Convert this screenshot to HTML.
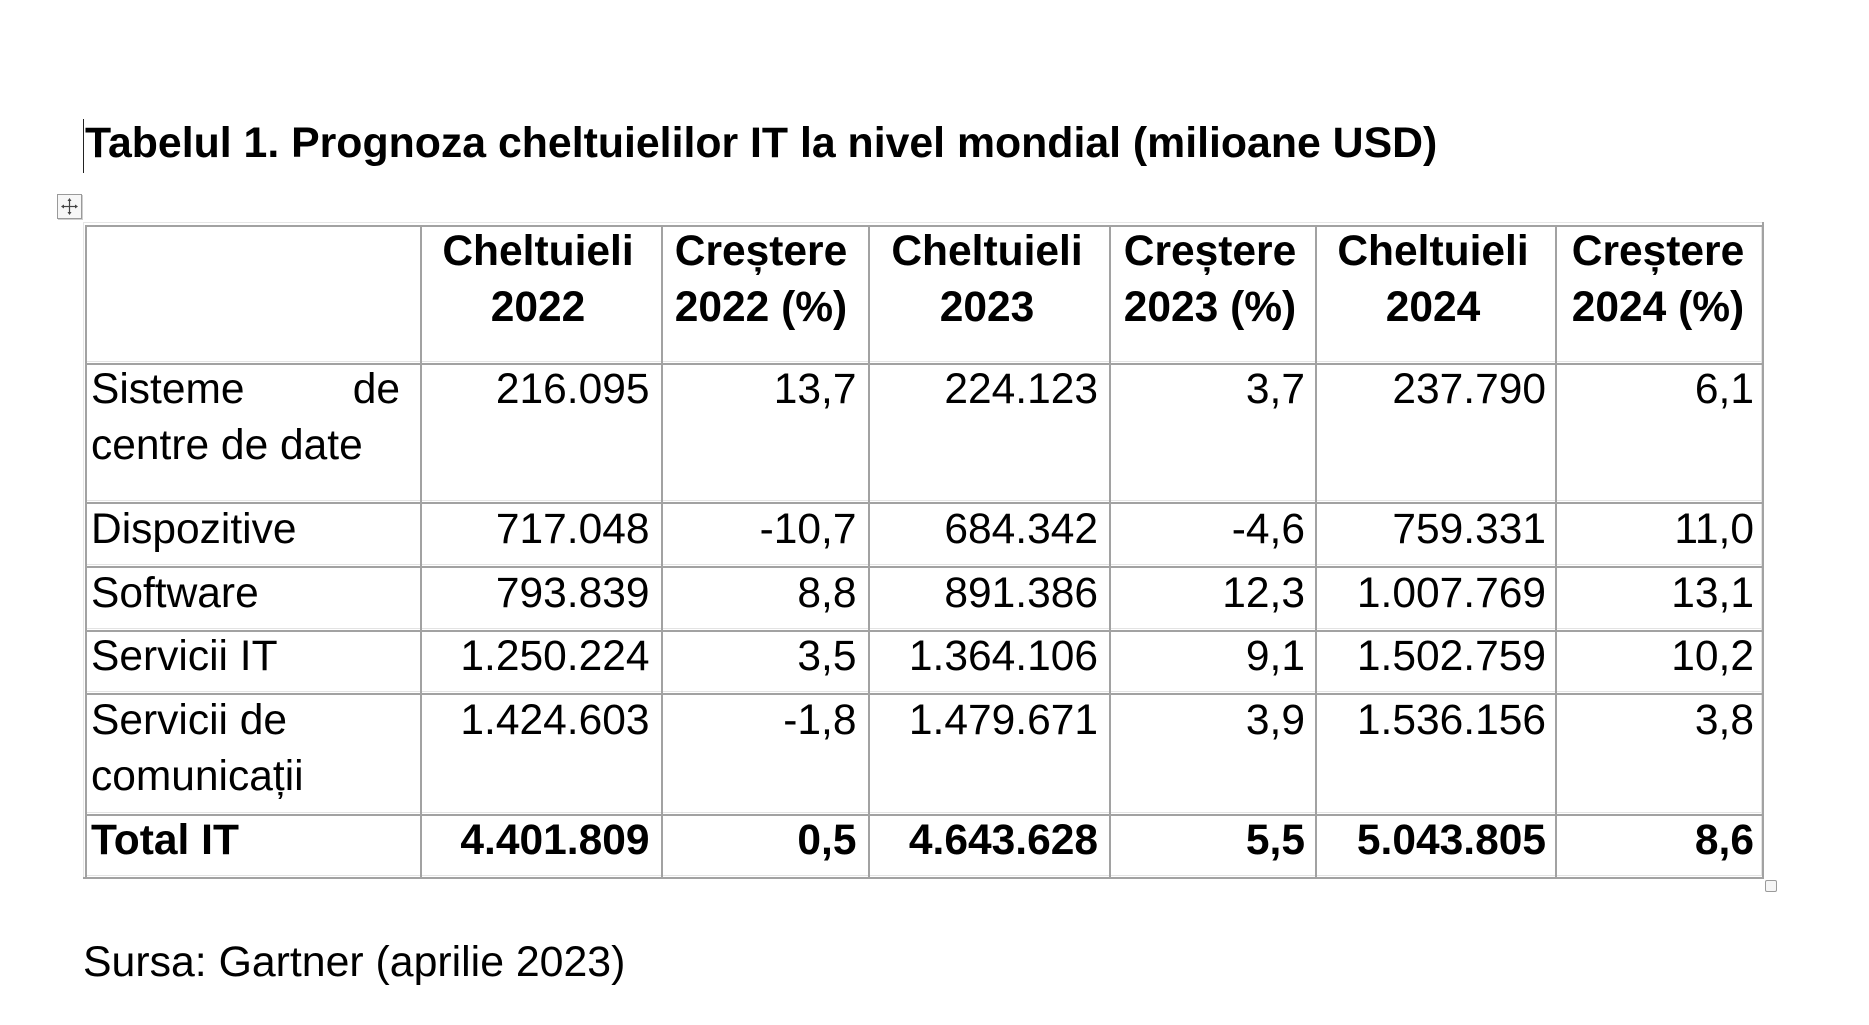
<!DOCTYPE html>
<html>
<head>
<meta charset="utf-8">
<style>
  html, body { margin:0; padding:0; background:#fff; }
  body { width:1869px; height:1025px; position:relative; overflow:hidden; }
  .t { position:absolute; font-family:"Liberation Sans", Arial, sans-serif; font-size:42.5px; line-height:56px; white-space:nowrap; color:#000; }
  .b { font-weight:bold; }
  .c { text-align:center; width:240px; }
  .r { text-align:right; }
  .dv { position:absolute; width:2px; background:#a2a2a2; top:225px; height:654px; }
  .dh { position:absolute; height:2px; background:#a2a2a2; left:85px; width:1679px; }
  .lh { position:absolute; height:1px; background:#e3e3e3; left:85px; width:1677px; }
</style>
</head>
<body>

<!-- cursor -->
<div style="position:absolute;left:83px;top:119px;width:1px;height:54px;background:#222;"></div>
<!-- title -->
<div class="t b" style="left:85px;top:115px;font-size:42.8px;">Tabelul 1. Prognoza cheltuielilor IT la nivel mondial (milioane USD)</div>

<!-- move handle -->
<div style="position:absolute;left:57px;top:194px;width:23px;height:23px;border:1px solid #9a9a9a;background:#f7f7f7;box-shadow:1px 1px 0 #cfcfcf;">
  <svg width="23" height="23" viewBox="0 0 23 23" style="position:absolute;left:0;top:0;">
    <g stroke="#444" stroke-width="1.2" fill="none">
      <line x1="11.5" y1="4" x2="11.5" y2="19"/>
      <line x1="4" y1="11.5" x2="19" y2="11.5"/>
    </g>
    <g fill="#444">
      <polygon points="11.5,3 9.5,6 13.5,6"/>
      <polygon points="11.5,20 9.5,17 13.5,17"/>
      <polygon points="3,11.5 6,9.5 6,13.5"/>
      <polygon points="20,11.5 17,9.5 17,13.5"/>
    </g>
  </svg>
</div>

<!-- table outer frame -->
<div style="position:absolute;left:83px;top:222px;width:1681px;height:1px;background:#e6e6e6;"></div>
<div style="position:absolute;left:83px;top:222px;width:1px;height:657px;background:#e6e6e6;"></div>
<div style="position:absolute;left:1762px;top:222px;width:2px;height:657px;background:#a2a2a2;"></div>
<div style="position:absolute;left:1761px;top:225px;width:1px;height:651px;background:#e3e3e3;"></div>
<div style="position:absolute;left:83px;top:877px;width:1681px;height:2px;background:#a2a2a2;"></div>

<!-- light horizontal lines -->
<div class="lh" style="top:361px;"></div>
<div class="lh" style="top:500px;"></div>
<div class="lh" style="top:564px;"></div>
<div class="lh" style="top:628px;"></div>
<div class="lh" style="top:691px;"></div>
<div class="lh" style="top:812px;"></div>
<div class="lh" style="top:875px;"></div>

<!-- dark horizontal lines -->
<div class="dh" style="top:225px;"></div>
<div class="dh" style="top:363px;"></div>
<div class="dh" style="top:502px;"></div>
<div class="dh" style="top:566px;"></div>
<div class="dh" style="top:630px;"></div>
<div class="dh" style="top:693px;"></div>
<div class="dh" style="top:814px;"></div>

<!-- dark vertical lines -->
<div class="dv" style="left:85px;"></div>
<div class="dv" style="left:420px;"></div>
<div class="dv" style="left:661px;"></div>
<div class="dv" style="left:868px;"></div>
<div class="dv" style="left:1109px;"></div>
<div class="dv" style="left:1315px;"></div>
<div class="dv" style="left:1555px;"></div>

<!-- resize handle -->
<div style="position:absolute;left:1765px;top:880px;width:10px;height:10px;border:1px solid #9a9a9a;border-radius:2px;background:#f5f5f5;"></div>

<!-- header -->
<div class="t b c" style="left:418px;top:224px;">Cheltuieli<br>2022</div>
<div class="t b c" style="left:641px;top:224px;">Creștere<br>2022 (%)</div>
<div class="t b c" style="left:867px;top:224px;">Cheltuieli<br>2023</div>
<div class="t b c" style="left:1090px;top:224px;">Creștere<br>2023 (%)</div>
<div class="t b c" style="left:1313px;top:224px;">Cheltuieli<br>2024</div>
<div class="t b c" style="left:1538px;top:224px;">Creștere<br>2024 (%)</div>

<!-- row 1 -->
<div class="t" style="left:91px;top:362px;">Sisteme</div>
<div class="t r" style="right:1469px;top:362px;">de</div>
<div class="t" style="left:91px;top:418px;">centre de date</div>
<div class="t r" style="right:1219.5px;top:362px;">216.095</div>
<div class="t r" style="right:1012.5px;top:362px;">13,7</div>
<div class="t r" style="right:771px;top:362px;">224.123</div>
<div class="t r" style="right:564px;top:362px;">3,7</div>
<div class="t r" style="right:323px;top:362px;">237.790</div>
<div class="t r" style="right:115px;top:362px;">6,1</div>

<!-- row 2 -->
<div class="t" style="left:91px;top:502px;">Dispozitive</div>
<div class="t r" style="right:1219.5px;top:502px;">717.048</div>
<div class="t r" style="right:1012.5px;top:502px;">-10,7</div>
<div class="t r" style="right:771px;top:502px;">684.342</div>
<div class="t r" style="right:564px;top:502px;">-4,6</div>
<div class="t r" style="right:323px;top:502px;">759.331</div>
<div class="t r" style="right:115px;top:502px;">11,0</div>

<!-- row 3 -->
<div class="t" style="left:91px;top:566px;">Software</div>
<div class="t r" style="right:1219.5px;top:566px;">793.839</div>
<div class="t r" style="right:1012.5px;top:566px;">8,8</div>
<div class="t r" style="right:771px;top:566px;">891.386</div>
<div class="t r" style="right:564px;top:566px;">12,3</div>
<div class="t r" style="right:323px;top:566px;">1.007.769</div>
<div class="t r" style="right:115px;top:566px;">13,1</div>

<!-- row 4 -->
<div class="t" style="left:91px;top:629px;">Servicii IT</div>
<div class="t r" style="right:1219.5px;top:629px;">1.250.224</div>
<div class="t r" style="right:1012.5px;top:629px;">3,5</div>
<div class="t r" style="right:771px;top:629px;">1.364.106</div>
<div class="t r" style="right:564px;top:629px;">9,1</div>
<div class="t r" style="right:323px;top:629px;">1.502.759</div>
<div class="t r" style="right:115px;top:629px;">10,2</div>

<!-- row 5 -->
<div class="t" style="left:91px;top:693px;">Servicii de<br>comunicații</div>
<div class="t r" style="right:1219.5px;top:693px;">1.424.603</div>
<div class="t r" style="right:1012.5px;top:693px;">-1,8</div>
<div class="t r" style="right:771px;top:693px;">1.479.671</div>
<div class="t r" style="right:564px;top:693px;">3,9</div>
<div class="t r" style="right:323px;top:693px;">1.536.156</div>
<div class="t r" style="right:115px;top:693px;">3,8</div>

<!-- total -->
<div class="t b" style="left:91px;top:813px;">Total IT</div>
<div class="t b r" style="right:1219.5px;top:813px;">4.401.809</div>
<div class="t b r" style="right:1012.5px;top:813px;">0,5</div>
<div class="t b r" style="right:771px;top:813px;">4.643.628</div>
<div class="t b r" style="right:564px;top:813px;">5,5</div>
<div class="t b r" style="right:323px;top:813px;">5.043.805</div>
<div class="t b r" style="right:115px;top:813px;">8,6</div>

<!-- source -->
<div class="t" style="left:83px;top:934px;font-size:42.8px;">Sursa: Gartner (aprilie 2023)</div>

</body>
</html>
